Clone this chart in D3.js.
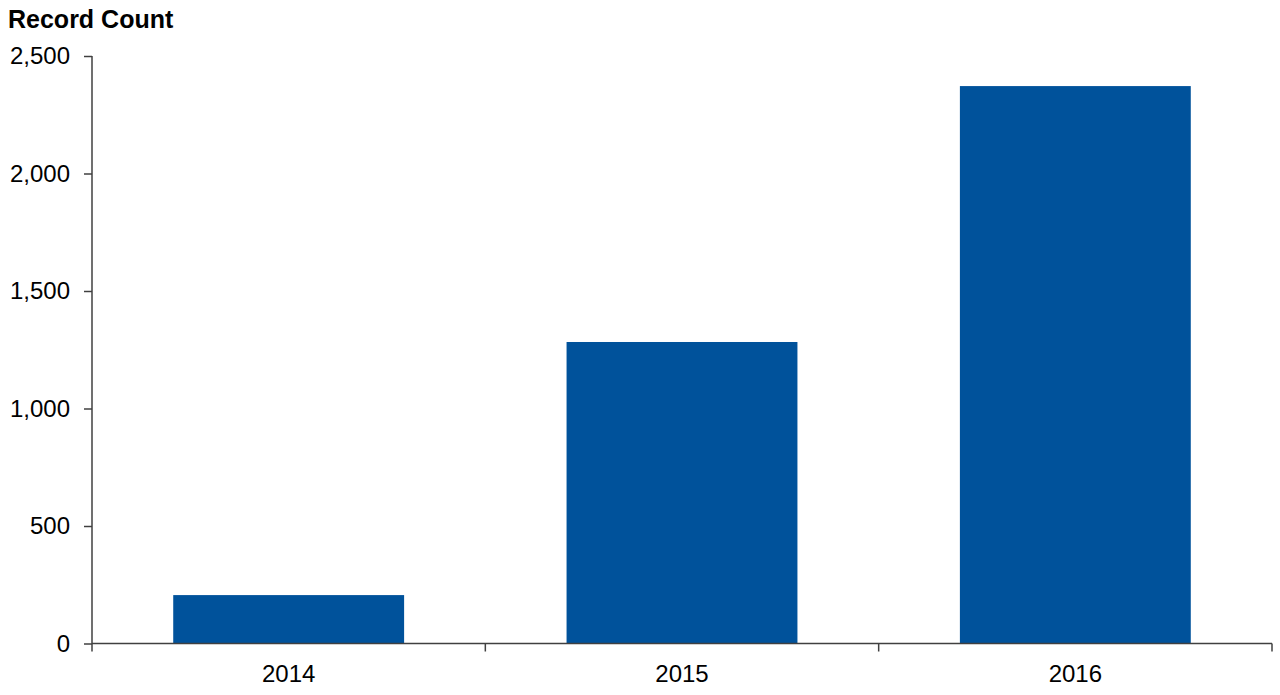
<!DOCTYPE html>
<html>
<head>
<meta charset="utf-8">
<script src="https://cdn.jsdelivr.net/npm/d3@7"></script>
<style>
  body { margin: 0; background: #fff; }
  svg { display: block; }
</style>
</head>
<body>
<div class="bar_chart"></div>
<script>
// data
const years = ["2014", "2015", "2016"];
const counts = [206, 1283, 2372];
const yTicks = [0, 500, 1000, 1500, 2000, 2500];

const width = 1280, height = 695;
const margin = { top: 56, right: 8, bottom: 51.5, left: 92 };

const svg = d3.select(".bar_chart").append("svg")
  .attr("width", width)
  .attr("height", height)
  .attr("font-family", "'Liberation Sans', Arial, sans-serif");

const x = d3.scaleBand()
  .domain(years)
  .range([margin.left, width - margin.right])
  .paddingInner(0.413)
  .paddingOuter(0.2065);

const y = d3.scaleLinear()
  .domain([0, 2500])
  .range([height - margin.bottom, margin.top]);

// bars
svg.append("g")
  .attr("fill", "#00529b")
  .selectAll("rect")
  .data(counts)
  .join("rect")
  .attr("x", (d, i) => x(years[i]))
  .attr("y", d => y(d))
  .attr("width", x.bandwidth())
  .attr("height", d => y(0) - y(d));

// y axis
const yAxis = svg.append("g")
  .attr("transform", `translate(${margin.left},0)`)
  .call(d3.axisLeft(y).tickValues(yTicks).tickSize(8).tickPadding(14).tickFormat(d3.format(",")).tickSizeOuter(0));
yAxis.select(".domain").attr("stroke", "#404040").attr("stroke-width", 1.5)
  .attr("d", `M0,${margin.top}V${height - margin.bottom + 8}`);
yAxis.selectAll(".tick line").attr("stroke", "#404040").attr("stroke-width", 1.5);
yAxis.selectAll(".tick text").attr("font-size", 24).attr("fill", "#000").attr("font-family", null);

// x axis: ticks at category boundaries
const xAxisG = svg.append("g")
  .attr("transform", `translate(0,${y(0)})`);
xAxisG.append("path")
  .attr("stroke", "#404040").attr("stroke-width", 1.5).attr("fill", "none")
  .attr("d", `M${margin.left},0H${width - margin.right}`);
const bounds = years.map(d => x(d) - x.step() * x.paddingOuter() + x.step());
xAxisG.selectAll("line.bound")
  .data(bounds)
  .join("line")
  .attr("class", "bound")
  .attr("x1", d => d).attr("x2", d => d)
  .attr("y1", 0).attr("y2", 8)
  .attr("stroke", "#404040").attr("stroke-width", 1.5);
xAxisG.selectAll("text")
  .data(years)
  .join("text")
  .attr("x", d => x(d) + x.bandwidth() / 2)
  .attr("y", 38)
  .attr("text-anchor", "middle")
  .attr("font-size", 24)
  .text(d => d);

// title
svg.append("text")
  .attr("x", 8)
  .attr("y", 28)
  .attr("font-size", 25)
  .attr("font-weight", "bold")
  .text("Record Count");
</script>
</body>
</html>
